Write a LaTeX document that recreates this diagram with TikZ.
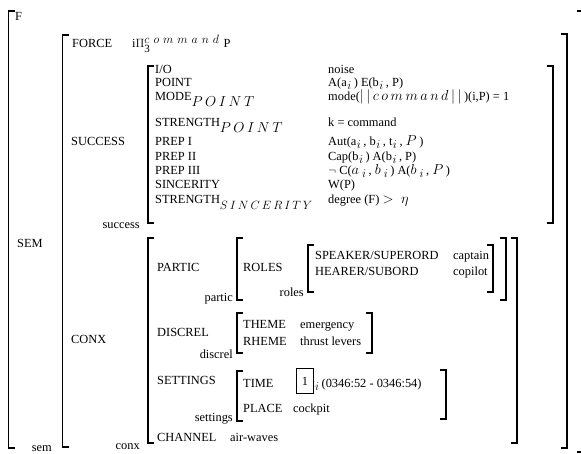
\documentclass[tikz,border=0pt]{standalone}
\usepackage{fontspec}
\setmainfont{Liberation Serif}

\tikzset{
    brak/.style={line width=1.3pt},
    lab/.style={anchor=base west, inner sep=0pt},
    tag/.style={anchor=base east, inner sep=0pt},
}
% left and right brackets: x, top, bottom
\newcommand{\lbrak}[3]{\draw[brak] (#1+6,#2) -- (#1,#2) -- (#1,#3) -- (#1+6,#3);}
\newcommand{\rbrak}[3]{\draw[brak] (#1-6,#2) -- (#1,#2) -- (#1,#3) -- (#1-6,#3);}
% spaced math italic
\makeatletter
\newcommand{\spaced}[2]{\@tfor\@ch:=#2\do{\@ch\kern#1}}
\makeatother
\newcommand{\mitx}[1]{{\fontsize{13.5}{14}\selectfont$\spaced{2.5pt}{#1}$}}
\newcommand{\lowsub}[1]{\raisebox{-6pt}{\mitx{#1}}}
\newcommand{\sbi}{\kern0.5pt\raisebox{-3pt}{\fontsize{12}{12}\selectfont$i$}\kern2.5pt}

\begin{document}
\begin{tikzpicture}[x=1pt, y=-1pt, font=\fontsize{12.4}{14}\selectfont]
    \useasboundingbox (0,0) rectangle (581,454);

    % outer level
    \node[lab] (f) at (15,21) {F};
    \node[lab] (sem) at (17,248) {SEM};
    \node[tag] (tagsem) at (52,451) {sem};
    \lbrak{8.5}{11}{448}
    \rbrak{582.5}{11}{452}

    % sem
    \lbrak{62.5}{35}{447}
    \rbrak{567}{34}{448}
    \node[lab] (force) at (72,48) {FORCE};
    \node[lab] (forceval) at (132,48) {i$\Pi^{\mbox{\fontsize{12.5}{12}\selectfont$\spaced{4pt}{command}$}}_{\mbox{\fontsize{11}{11}\selectfont 3}}$P};
    \node[lab] (success) at (71,146) {SUCCESS};
    \node[lab] (conx) at (71,344) {CONX};

    % success
    \lbrak{148}{66}{223}
    \rbrak{553}{66}{223}
    \node[tag] (tagsuccess) at (140,229) {success};
    \node[lab] (io) at (155,74) {I/O};
    \node[lab] (point) at (155,87) {POINT};
    \node[lab] (mode) at (155,101) {MODE\lowsub{POINT}};
    \node[lab] (strp) at (155,127) {STRENGTH\lowsub{POINT}};
    \node[lab] (prepa) at (155,146) {PREP I};
    \node[lab] (prepb) at (155,161) {PREP II};
    \node[lab] (prepc) at (155,175) {PREP III};
    \node[lab] (sinc) at (155,189) {SINCERITY};
    \node[lab] (strs) at (155,204) {STRENGTH\raisebox{-6pt}{{\fontsize{13}{14}\selectfont$\spaced{2pt}{SINCERITY}$}}};
    \node[lab] (noise) at (328,74) {noise};
    \node[lab] (pointval) at (328,87) {A(a\sbi) E(b\sbi, P)};
    \node[lab] (modeval) at (328,101) {mode(\mitx{||command||})(i,P) = 1};
    \node[lab] (strpval) at (328,127) {k = command};
    \node[lab] (prepaval) at (328,146) {Aut(a\sbi, b\sbi, t\sbi, \mitx{P})};
    \node[lab] (prepbval) at (328,161) {Cap(b\sbi) A(b\sbi, P)};
    \node[lab] (prepcval) at (328,175) {$\neg$ C(\mitx{a}\sbi, \mitx{b}\sbi) A(\mitx{b}\sbi, \mitx{P})};
    \node[lab] (sincval) at (328,189) {W(P)};
    \node[lab] (strsval) at (328,204) {degree (F) {\fontsize{14}{14}\selectfont$>\ \eta$}};

    % conx
    \lbrak{148}{238}{443}
    \rbrak{517}{238}{443}
    \node[tag] (tagconx) at (140,449) {conx};
    \node[lab] (partic) at (157,272) {PARTIC};
    \node[lab] (discrel) at (157,337) {DISCREL};
    \node[lab] (settings) at (157,384) {SETTINGS};
    \node[lab] (channel) at (157,441) {CHANNEL};
    \node[lab] (airwaves) at (230,441) {air-waves};

    % partic
    \lbrak{237}{238}{300}
    \rbrak{506}{238}{300}
    \node[tag] (tagpartic) at (233,302) {partic};
    \node[lab] (roles) at (243,272) {ROLES};
    \lbrak{308}{245}{292}
    \rbrak{493}{245}{292}
    \node[tag] (tagroles) at (304,297) {roles};
    \node[lab] (speaker) at (315,260) {SPEAKER/SUPERORD};
    \node[lab] (hearer) at (315,276) {HEARER/SUBORD};
    \node[lab] (captain) at (453,260) {captain};
    \node[lab] (copilot) at (453,276) {copilot};

    % discrel
    \lbrak{237}{313}{353}
    \rbrak{372}{313}{353}
    \node[tag] (tagdiscrel) at (233,358) {discrel};
    \node[lab] (theme) at (243,329) {THEME};
    \node[lab] (rheme) at (243,345) {RHEME};
    \node[lab] (emerg) at (300,329) {emergency};
    \node[lab] (thrust) at (300,345) {thrust levers};

    % settings
    \lbrak{237}{371}{421}
    \rbrak{446}{370}{419}
    \node[tag] (tagsettings) at (233,421) {settings};
    \node[lab] (time) at (243,387) {TIME};
    \node[lab] (place) at (243,412) {PLACE};
    \node[lab] (timeval) at (311,387) {t\sbi(0346:52 - 0346:54)};
    \node[draw, line width=1.7pt, fill=white, minimum width=17pt, minimum height=25pt, inner sep=0pt] (one) at (305,381) {1};
    \node[lab] (cockpit) at (293,412) {cockpit};
\end{tikzpicture}
\end{document}
